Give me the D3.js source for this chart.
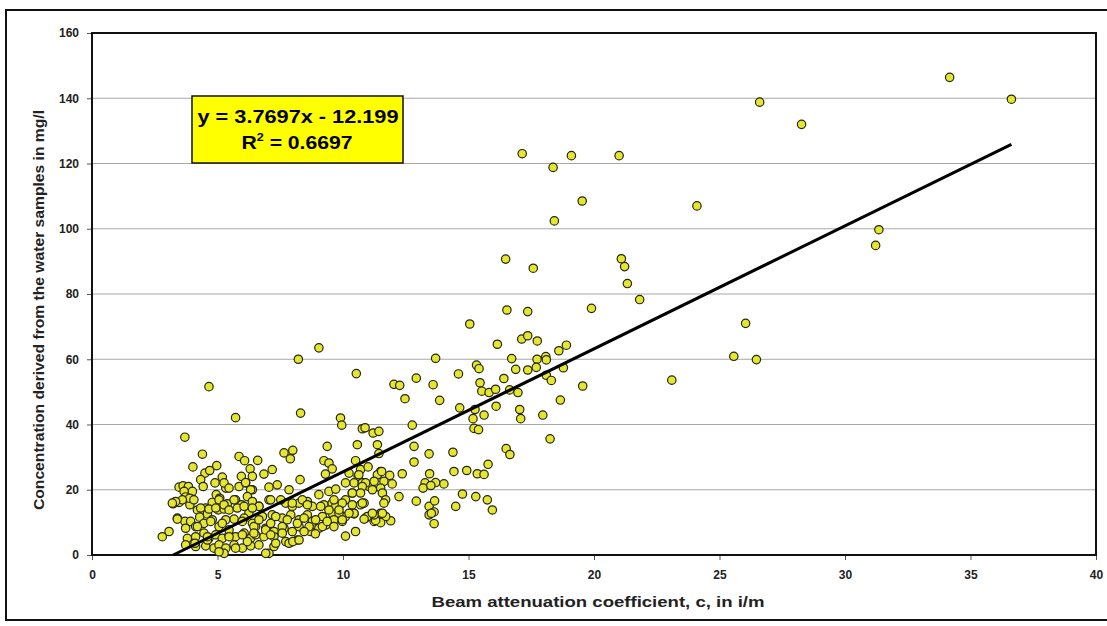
<!DOCTYPE html>
<html>
<head>
<meta charset="utf-8">
<script src="https://cdn.jsdelivr.net/npm/d3@7"></script>
<style>
  body { margin: 0; background: #fff; }
  svg { display: block; font-family: "Liberation Sans", Arial, sans-serif; }
</style>
</head>
<body>
<svg id="chart" width="1107" height="626"></svg>
<script>
// beam attenuation c (1/m) vs concentration (mg/l)
const beamC = [
  34.17, 36.63, 26.6, 28.27, 17.14, 19.1, 21.0, 18.37, 19.53, 24.1, 18.42, 31.35, 31.22, 16.48, 21.09, 21.22, 17.58, 21.33, 21.82, 19.9,
  16.53, 17.36, 26.04, 15.05, 25.57, 26.47, 23.1,
  16.15, 17.12, 17.36, 17.74, 18.6, 18.9, 9.04, 8.22, 13.69, 16.72, 17.73, 18.08, 18.1, 17.7, 17.36, 16.88, 18.78, 10.53, 12.03, 12.26, 12.92, 13.59, 14.6,
  15.32, 15.42, 15.46, 15.53, 15.82, 16.08, 16.41, 16.64, 16.97, 18.1, 18.3, 19.55, 4.66, 12.47, 13.85, 14.65, 15.26, 15.18, 15.62, 15.22,
  15.4, 16.1, 17.04, 17.08, 17.96, 18.66, 18.25, 16.5, 16.65, 15.78, 5.72, 8.31, 9.9, 9.95, 10.77, 10.88, 11.2, 11.43, 12.76, 3.7,
  9.37, 10.57, 11.37, 12.83, 13.43, 14.38, 11.43,
  4.4, 5.86, 6.08, 6.6, 7.65, 8.0, 7.9, 4.02, 4.5, 4.69, 4.97, 6.3, 5.95, 6.39, 6.85, 7.18, 8.29, 9.24, 9.44, 9.57,
  9.3, 10.5, 10.7, 11.0, 10.6, 10.63, 10.24, 11.5, 11.37, 11.54, 11.86, 12.36, 12.83, 13.45, 14.42, 14.93, 15.35, 15.62, 4.33, 4.43,
  4.9, 5.19, 5.33, 4.95, 3.47, 3.63, 3.84, 5.86, 6.12, 7.38, 7.85, 7.05, 6.39, 10.44, 10.1, 10.77, 11.04, 11.24, 11.63, 11.5,
  10.9, 11.96, 13.27, 13.69, 14.02, 13.19, 13.5, 5.26, 6.12, 6.32, 5.46, 4.0, 3.67,
  3.23, 3.47, 3.73, 4.0, 3.9, 3.89, 3.6, 4.06, 3.4, 3.7, 2.8, 3.07, 4.2, 4.53, 4.29, 4.6, 4.79, 5.09, 5.39, 5.03,
  5.26, 5.72, 5.96, 6.19, 6.39, 6.65, 7.05, 7.72, 7.98, 8.25, 8.58, 8.78, 9.04, 9.24, 9.57, 9.84, 9.57, 10.1, 10.37, 10.77,
  11.17, 10.1, 10.44, 10.9, 11.24, 10.1, 10.5, 11.57, 11.7, 11.63, 12.23, 12.92, 13.43, 13.65, 13.63, 13.63, 14.49, 14.76, 15.29, 15.75,
  15.95, 13.43, 13.52, 11.9, 11.7, 11.5, 11.5, 11.3, 10.97, 11.24, 11.57, 10.84, 11.17, 10.44, 9.57, 9.84, 9.71, 9.97, 10.7, 10.37,
  10.84, 9.44, 9.71, 9.64, 9.11, 9.44, 9.84, 8.38, 8.58, 7.52, 7.98, 7.12, 6.65, 6.25, 10.7, 10.77, 10.37,
  4.33, 4.66, 4.93, 5.06, 5.26, 5.46, 5.79, 6.06, 6.39, 5.66, 3.33, 3.2,
  3.4, 3.93, 4.46, 4.79, 5.33, 5.66, 6.06, 6.79, 7.18, 7.58, 7.92, 8.25, 8.58, 8.78, 9.18, 9.64, 9.97, 10.24,
  3.73, 4.13, 5.06, 6.39, 3.8, 4.13, 4.46, 4.66, 4.93, 5.19, 5.46, 5.72, 6.06, 6.32, 6.52, 4.13, 4.53, 4.86, 5.06, 5.33,
  5.66, 5.99, 6.32, 5.26, 6.52, 6.92, 7.25, 7.65, 7.98, 8.25, 8.71, 9.04, 6.85, 7.25, 7.72, 8.18, 7.85, 7.25, 7.05, 9.31,
  4.2, 4.73, 5.19, 5.46, 5.99, 6.45, 6.65, 6.92, 7.12, 7.32, 7.58, 7.78, 8.18, 8.45, 8.65, 8.91, 9.18, 9.37, 9.64, 9.97,
  3.73, 4.1, 4.6, 5.06, 5.72, 6.19, 6.65, 6.92, 7.32, 8.0, 8.25, 4.6, 5.46, 5.99, 6.45, 7.12, 7.58, 8.45, 8.9
];
const concentration = [
  146.4, 139.7, 138.8, 132, 123, 122.4, 122.4, 118.8, 108.5, 107, 102.4, 99.7, 94.9, 90.7, 90.8, 88.4, 87.9, 83.2, 78.3, 75.6,
  75.1, 74.6, 71, 70.8, 60.9, 59.9, 53.6,
  64.6, 66.2, 67.2, 65.6, 62.6, 64.3, 63.5, 60, 60.3, 60.2, 60, 60.8, 59.8, 57.5, 56.7, 56.9, 57.4, 55.6, 52.3, 52, 54.2, 52.2, 55.5,
  58.2, 57.1, 52.8, 50.2, 49.8, 50.8, 54.1, 50.6, 49.8, 55.1, 53.5, 51.8, 51.6, 47.9, 47.4, 45.1, 44.6, 41.8, 42.9, 38.8,
  38.4, 45.6, 44.6, 41.8, 42.9, 47.5, 35.6, 32.6, 30.8, 27.8, 42.1, 43.5, 42, 39.8, 38.7, 39, 37.4, 37.9, 39.8, 36.1,
  33.3, 33.8, 33.8, 33.3, 31, 31.5, 31.1,
  30.9, 30.2, 28.9, 29, 31.3, 32.1, 29.5, 27, 25.1, 25.9, 27.4, 26.4, 24.1, 24.1, 24.8, 26.2, 23.1, 28.9, 28.2, 26.4,
  24.8, 28.9, 26.2, 27, 24.1, 24.6, 25.1, 25.6, 24.6, 25.6, 24.4, 24.9, 28.5, 24.9, 25.6, 25.9, 24.9, 24.7, 23.1, 21,
  22.1, 23.9, 20.5, 18.5, 20.8, 21.2, 21, 21, 22.1, 21.5, 20, 20.8, 20, 22.1, 22.1, 22.1, 21, 22.6, 22.6, 20.5,
  22.1, 21.8, 22.1, 22.2, 21.8, 20.5, 21.3, 22.1, 22.2, 20, 20.5, 19.5, 19.5,
  15.7, 16.1, 17.8, 17.1, 15.4, 17.4, 16.9, 16.9, 11.3, 10.3, 5.6, 7.2, 13.8, 14.4, 11.6, 12.6, 16.1, 17.4, 15.7, 13.8,
  14.1, 16.9, 15.4, 17.9, 16.4, 14.9, 16.9, 15.9, 14.9, 15.9, 16.4, 14.9, 18.5, 15.4, 15.9, 14.9, 13.3, 16.9, 19, 21,
  20, 11.8, 12.6, 11.3, 10.3, 5.8, 7.2, 19, 16.9, 15.9, 17.9, 16.5, 14.9, 16.6, 13.2, 9.6, 14.9, 18.7, 17.9, 16.9,
  13.8, 12.3, 12.8, 10.5, 11.8, 12.8, 9.9, 10.6, 11.8, 12.3, 12.8, 11, 12.8, 12.8, 12.8, 12.8, 14.9, 15.9, 15.4, 15.4,
  15.9, 19.5, 20.2, 16.9, 14.9, 13.8, 13.8, 16.9, 15.4, 16.9, 15.9, 16.9, 14.9, 12.8, 19, 15.9, 19,
  14.4, 14.1, 14.4, 16.9, 15.4, 13.8, 14.4, 14.9, 14.4, 16.9, 16.4, 15.9,
  11, 10.3, 9.7, 10.8, 10.8, 11, 11.3, 11.8, 12.3, 11.3, 12.3, 10.8, 12.3, 10.3, 11.8, 10.8, 10.3, 12.8,
  8.2, 8.7, 8.7, 9.7, 5.1, 5.6, 6.7, 5.1, 6.2, 5.1, 6.2, 5.6, 6.7, 5.1, 6.2, 2.6, 2.8, 2.1, 3.1, 2.1,
  3.1, 2.1, 2.8, 0.5, 8.7, 8.2, 7.2, 8.2, 7.2, 8.7, 7.2, 8.2, 5.6, 5.6, 4.1, 4.6, 3.6, 2.6, 0.5, 9.2,
  8.7, 10.3, 9.7, 7.7, 10.3, 8.7, 10.8, 7.7, 9.7, 11.8, 8.7, 10.8, 9.7, 11.3, 8.7, 10.8, 8.7, 10.3, 8.7, 10.8,
  3.1, 3.6, 4.6, 1.0, 2.1, 4.1, 3.1, 0.5, 3.6, 4.1, 4.6, 5.6, 5.6, 6.2, 6.7, 6.2, 6.7, 7.2, 6.5
];

const slope = 3.7697;
const intercept = -12.199;
const rSquared = "0.6697";
const xTicks = [0, 5, 10, 15, 20, 25, 30, 35, 40];
const yTicks = [0, 20, 40, 60, 80, 100, 120, 140, 160];
const xTitle = "Beam attenuation coefficient, c, in i/m";
const yTitle = "Concentration derived from the water samples in mg/l";

const svg = d3.select("#chart");

const x = d3.scaleLinear().domain([0, 40]).range([92, 1096]);
const y = d3.scaleLinear().domain([0, 160]).range([555, 33]);

// outer frame
svg.append("rect")
  .attr("x", 6).attr("y", 10)
  .attr("width", 1120).attr("height", 610)
  .attr("fill", "#fff")
  .attr("stroke", "#111")
  .attr("stroke-width", 2);

// gridlines
svg.append("g")
  .selectAll("line")
  .data(yTicks.filter(d => d > 0 && d < 160))
  .join("line")
  .attr("x1", x(0)).attr("x2", x(40))
  .attr("y1", d => y(d)).attr("y2", d => y(d))
  .attr("stroke", "#a8a8a8")
  .attr("stroke-width", 1);

// axes
const yAxis = svg.append("g")
  .attr("transform", `translate(${x(0)},0)`)
  .call(d3.axisLeft(y).tickValues(yTicks).tickSize(5).tickPadding(8).tickFormat(d3.format("d")));
const xAxis = svg.append("g")
  .attr("transform", `translate(0,${y(0)})`)
  .call(d3.axisBottom(x).tickValues(xTicks).tickSize(5).tickPadding(10).tickFormat(d3.format("d")));

[xAxis, yAxis].forEach(a => {
  a.select(".domain").remove();
  a.selectAll("line").attr("stroke", "#555");
  a.selectAll("text")
    .attr("font-size", 12)
    .attr("font-weight", "bold")
    .attr("fill", "#222")
    .attr("font-family", "Liberation Sans, Arial, sans-serif");
});

// plot border
svg.append("rect")
  .attr("x", x(0)).attr("y", y(160))
  .attr("width", x(40) - x(0)).attr("height", y(0) - y(160))
  .attr("fill", "none")
  .attr("stroke", "#111")
  .attr("stroke-width", 2);

// points
svg.append("g")
  .selectAll("circle")
  .data(beamC.map((c, i) => [c, concentration[i]]))
  .join("circle")
  .attr("cx", d => x(d[0]))
  .attr("cy", d => y(d[1]))
  .attr("r", 4.2)
  .attr("fill", "#e4e630")
  .attr("stroke", "#26260f")
  .attr("stroke-width", 1.2);

// trendline from y = 0 to the largest c
const xStart = -intercept / slope;
const xEnd = d3.max(beamC);
svg.append("path")
  .attr("d", d3.line().x(d => x(d)).y(d => y(slope * d + intercept))([xStart, xEnd]))
  .attr("stroke", "#000")
  .attr("stroke-width", 3)
  .attr("fill", "none");

// equation box
const box = svg.append("g").attr("transform", "translate(192,96)");
box.append("rect")
  .attr("width", 211).attr("height", 67)
  .attr("fill", "#ffff00")
  .attr("stroke", "#111")
  .attr("stroke-width", 1.5);
box.append("text")
  .attr("x", 106).attr("y", 27)
  .attr("text-anchor", "middle")
  .attr("font-size", 18.5).attr("font-weight", "bold")
  .attr("textLength", 201).attr("lengthAdjust", "spacingAndGlyphs")
  .text(`y = ${slope}x - ${-intercept}`);
const r2 = box.append("text")
  .attr("x", 105).attr("y", 53)
  .attr("text-anchor", "middle")
  .attr("font-size", 18.5).attr("font-weight", "bold")
  .attr("textLength", 111).attr("lengthAdjust", "spacingAndGlyphs");
r2.append("tspan").text("R");
r2.append("tspan").attr("font-size", 11).attr("dy", -8).text("2");
r2.append("tspan").attr("dy", 8).text(` = ${rSquared}`);

// titles
svg.append("text")
  .attr("x", 598).attr("y", 607)
  .attr("text-anchor", "middle")
  .attr("font-size", 14).attr("font-weight", "bold")
  .attr("fill", "#222")
  .attr("textLength", 333).attr("lengthAdjust", "spacingAndGlyphs")
  .text(xTitle);
svg.append("text")
  .attr("transform", "translate(44,310) rotate(-90)")
  .attr("text-anchor", "middle")
  .attr("font-size", 14.5).attr("font-weight", "bold")
  .attr("fill", "#222")
  .attr("textLength", 400).attr("lengthAdjust", "spacingAndGlyphs")
  .text(yTitle);
</script>
</body>
</html>
